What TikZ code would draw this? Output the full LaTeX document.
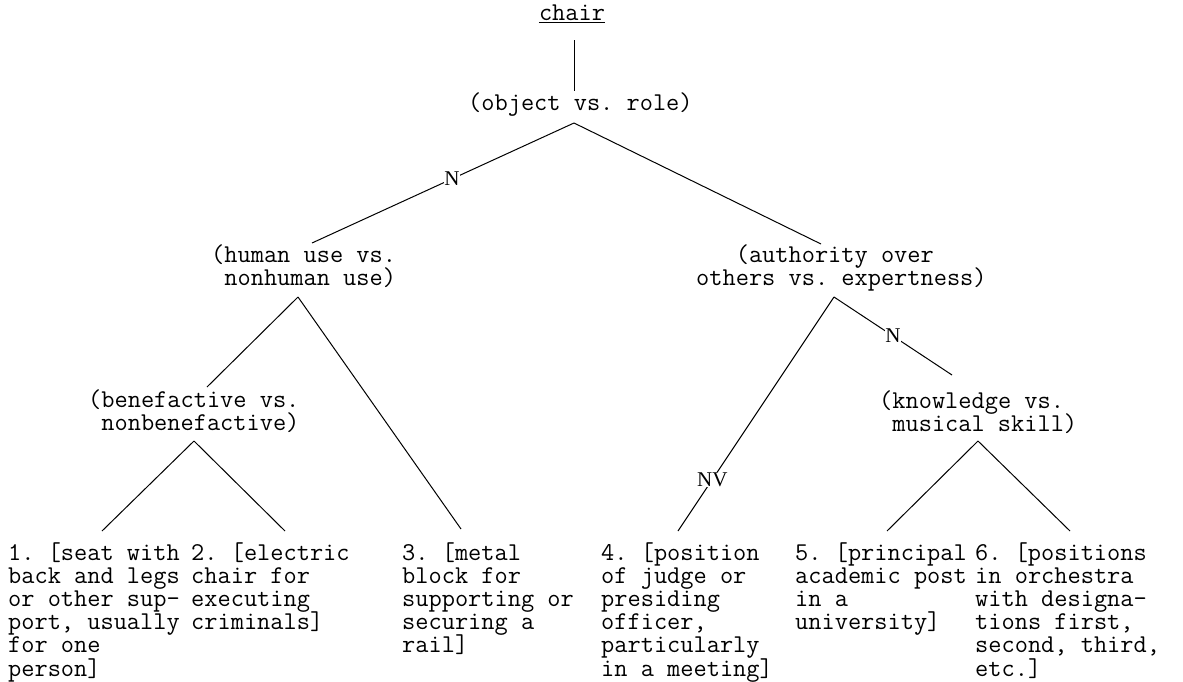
\documentclass[tikz,border=0pt]{standalone}
\usepackage{fontspec}
\newfontfamily\labfont{Liberation Serif}
\newlength\mychw
\newcommand\ml[1]{\vtop{\baselineskip=23.2pt\lineskiplimit=-\maxdimen\lineskip=0pt\relax #1}}
\begin{document}
{\fontsize{25}{25}\selectfont\ttfamily\global\mychw=\fontcharwd\font`a\relax}
\pgfmathsetmacro\monosize{25*13.2/\mychw}
\newcommand{\monosz}{\fontsize{\monosize}{23.2}\selectfont\ttfamily\fontdimen2\font=\fontcharwd\font`a\relax\fontdimen3\font=0pt\fontdimen4\font=0pt\spaceskip=\fontcharwd\font`a\relax\xspaceskip=\spaceskip\frenchspacing}
\begin{tikzpicture}[x=1pt,y=-1pt,
  txt/.style={font=\monosz, inner sep=0pt, anchor=base west},
  ctr/.style={font=\monosz, inner sep=0pt, anchor=base},
  lab/.style={font=\labfont\fontsize{21}{21}\selectfont, fill=white, inner sep=0.8pt},
  edge/.style={draw=black, line width=1pt}]
\useasboundingbox (0,0) rectangle (1183,681);

% texts
\node[ctr] (chair) at (572,20) {chair};
\draw[line width=0.9pt] ([yshift=-2.7pt]chair.base west) -- ([yshift=-2.7pt]chair.base east);
\node[txt] (obj) at (468,110) {(object vs. role)};
\node[txt] (hum) at (211,262) {\ml{\hbox{(human use vs.}\hbox{\phantom{(}nonhuman use)}}};
\node[txt] (auth) at (696,262) {\ml{\hbox{\phantom{(((}(authority over}\hbox{others vs. expertness)}}};
\node[txt] (benef) at (88,407) {\ml{\hbox{(benefactive vs.}\hbox{\phantom{(}nonbenefactive)}}};
\node[txt] (know) at (879,408) {\ml{\hbox{(knowledge vs.}\hbox{\phantom{(}musical skill)}}};
\node[txt] (l1) at (8,560) {\ml{\hbox{1. [seat with}\hbox{back and legs}\hbox{or other sup-}\hbox{port, usually}\hbox{for one}\hbox{person]}}};
\node[txt] (l2) at (191,560) {\ml{\hbox{2. [electric}\hbox{chair for}\hbox{executing}\hbox{criminals]}}};
\node[txt] (l3) at (402,560) {\ml{\hbox{3. [metal}\hbox{block for}\hbox{supporting or}\hbox{securing a}\hbox{rail]}}};
\node[txt] (l4) at (601,560) {\ml{\hbox{4. [position}\hbox{of judge or}\hbox{presiding}\hbox{officer,}\hbox{particularly}\hbox{in a meeting]}}};
\node[txt] (l5) at (795,560) {\ml{\hbox{5. [principal}\hbox{academic post}\hbox{in a}\hbox{university]}}};
\node[txt] (l6) at (975,560) {\ml{\hbox{6. [positions}\hbox{in orchestra}\hbox{with designa-}\hbox{tions first,}\hbox{second, third,}\hbox{etc.]}}};

% connector end points
\coordinate (chairbot) at (574,40);
\coordinate (objtop) at (574,91);
\coordinate (objapex) at (574,123);
\coordinate (humtop) at (312,243);
\coordinate (authtop) at (821,244);
\coordinate (humapex) at (298,297);
\coordinate (beneftop) at (207,387);
\coordinate (l3top) at (461,529);
\coordinate (benefapex) at (194,441);
\coordinate (l1top) at (102,531);
\coordinate (l2top) at (285,531);
\coordinate (authapex) at (834,297);
\coordinate (l4top) at (678,531);
\coordinate (knowtop) at (952,375);
\coordinate (knowapex) at (978,441);
\coordinate (l5top) at (887,531);
\coordinate (l6top) at (1070,531);

% connectors
\draw[edge] (chairbot) -- (objtop);
\draw[edge] (objapex) -- node[lab, pos=0.466] (n1) {N} (humtop);
\draw[edge] (objapex) -- (authtop);
\draw[edge] (humapex) -- (beneftop);
\draw[edge] (humapex) -- (l3top);
\draw[edge] (benefapex) -- (l1top);
\draw[edge] (benefapex) -- (l2top);
\draw[edge] (authapex) -- node[lab, pos=0.78] (nv) {NV} (l4top);
\draw[edge] (authapex) -- node[lab, pos=0.5] (n2) {N} (knowtop);
\draw[edge] (knowapex) -- (l5top);
\draw[edge] (knowapex) -- (l6top);
\end{tikzpicture}
\end{document}
